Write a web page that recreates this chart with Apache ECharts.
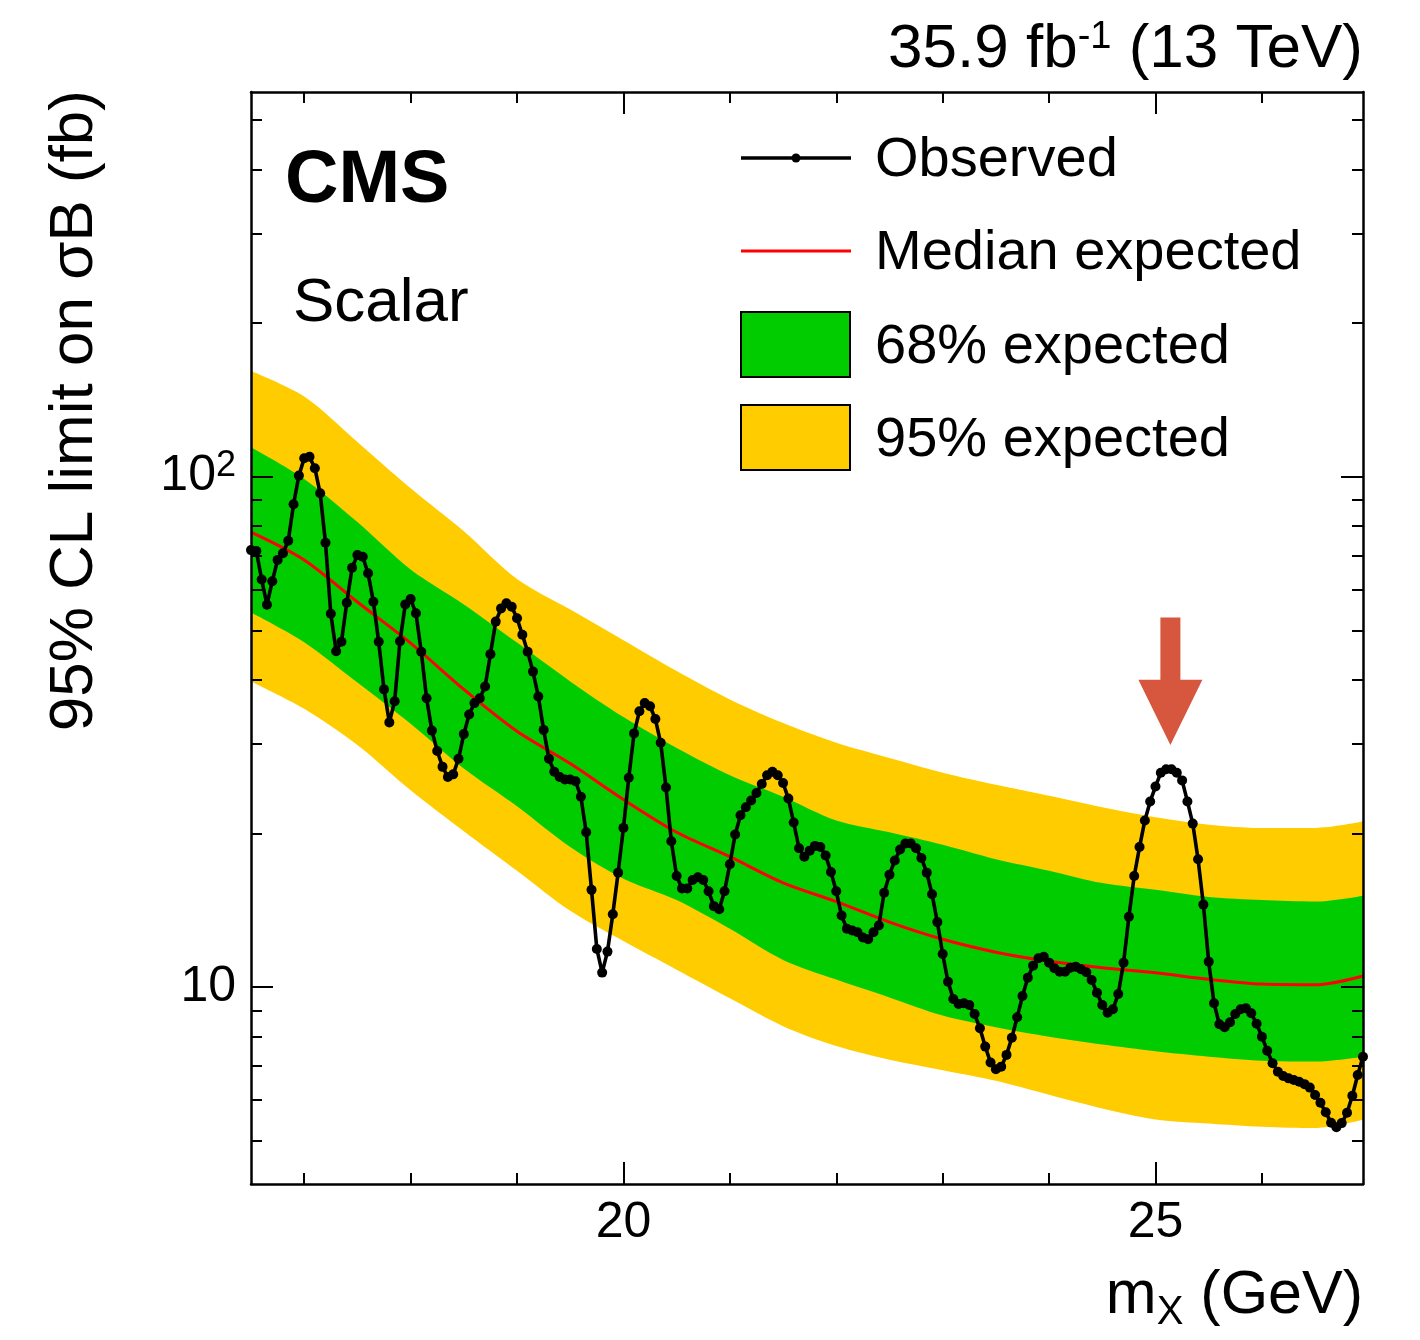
<!DOCTYPE html>
<html><head><meta charset="utf-8">
<script src="https://cdn.jsdelivr.net/npm/echarts@6/dist/echarts.min.js"></script>
<style>html,body{margin:0;padding:0;background:#fff}#c{width:1420px;height:1340px}</style>
</head><body><div id="c"></div>
<script>
// ---------- data ----------
const massPoints = [
16.5,16.55,16.6,16.65,16.7,16.75,16.8,16.85,16.9,16.95,
17,17.05,17.1,17.15,17.2,17.25,17.3,17.35,17.4,17.45,
17.5,17.55,17.6,17.65,17.7,17.75,17.8,17.85,17.9,17.95,
18,18.05,18.1,18.15,18.2,18.25,18.3,18.35,18.4,18.45,
18.5,18.55,18.6,18.65,18.7,18.75,18.8,18.85,18.9,18.95,
19,19.05,19.1,19.15,19.2,19.25,19.3,19.35,19.4,19.45,
19.5,19.55,19.6,19.65,19.7,19.75,19.8,19.85,19.9,19.95,
20,20.05,20.1,20.15,20.2,20.25,20.3,20.35,20.4,20.45,
20.5,20.55,20.6,20.65,20.7,20.75,20.8,20.85,20.9,20.95,
21,21.05,21.1,21.15,21.2,21.25,21.3,21.35,21.4,21.45,
21.5,21.55,21.6,21.65,21.7,21.75,21.8,21.85,21.9,21.95,
22,22.05,22.1,22.15,22.2,22.25,22.3,22.35,22.4,22.45,
22.5,22.55,22.6,22.65,22.7,22.75,22.8,22.85,22.9,22.95,
23,23.05,23.1,23.15,23.2,23.25,23.3,23.35,23.4,23.45,
23.5,23.55,23.6,23.65,23.7,23.75,23.8,23.85,23.9,23.95,
24,24.05,24.1,24.15,24.2,24.25,24.3,24.35,24.4,24.45,
24.5,24.55,24.6,24.65,24.7,24.75,24.8,24.85,24.9,24.95,
25,25.05,25.1,25.15,25.2,25.25,25.3,25.35,25.4,25.45,
25.5,25.55,25.6,25.65,25.7,25.75,25.8,25.85,25.9,25.95,
26,26.05,26.1,26.15,26.2,26.25,26.3,26.35,26.4,26.45,
26.5,26.55,26.6,26.65,26.7,26.75,26.8,26.85,26.9,26.95
];
const observed = [
71.8,71.5,62.9,56.1,62.4,68.7,70.8,74.9,88.3,100.5,
108.7,109.4,103.9,92.8,74.2,53.9,45.5,47.5,56.6,66.3,
70.2,69.7,64.7,56.9,47.5,38.3,33.0,36.3,47.6,56.2,
57.6,54.0,45.4,36.8,31.8,29.0,27.0,25.8,26.1,28.0,
31.3,34.2,36.0,36.8,38.8,44.9,52.0,55.2,56.5,55.6,
52.8,49.0,45.4,41.5,37.1,31.9,28.0,26.4,25.8,25.5,
25.5,25.3,23.6,20.1,15.5,11.87,10.67,11.73,13.88,16.75,
20.5,25.7,31.4,34.7,36.0,35.5,33.5,30.1,24.6,19.3,
16.5,15.6,15.6,16.2,16.4,16.2,15.4,14.4,14.2,15.4,
17.4,19.9,21.7,22.5,23.2,24.0,25.0,26.0,26.4,26.0,
25.1,23.4,21.0,18.7,18.0,18.5,18.9,18.8,18.1,16.8,
15.4,13.8,13.0,12.9,12.8,12.5,12.4,12.8,13.2,15.3,
16.6,17.7,18.6,19.1,19.1,18.7,17.9,16.75,15.2,13.4,
11.6,10.24,9.47,9.26,9.29,9.22,8.85,8.30,7.64,7.11,
6.90,6.98,7.36,7.95,8.72,9.60,10.43,11.01,11.38,11.46,
11.16,10.88,10.71,10.71,10.91,10.96,10.83,10.69,10.32,9.74,
9.22,8.90,9.04,9.69,11.16,13.73,16.5,18.8,21.2,23.1,
24.7,26.3,26.7,26.7,26.3,25.4,23.1,20.9,17.8,14.5,
11.21,9.29,8.45,8.34,8.53,8.85,9.04,9.08,8.88,8.47,
7.99,7.50,7.09,6.82,6.69,6.62,6.57,6.52,6.45,6.35,
6.14,5.93,5.68,5.42,5.31,5.41,5.67,6.12,6.72,7.30
];
const bandMass   = [16.5,17,17.5,18,18.5,19,19.5,20,20.5,21,21.5,22,22.5,23,23.5,24,24.5,25,25.5,26,26.5,26.95];
const band95Up   = [161.1,143.6,117.0,94.9,78.2,63.0,54.9,47.8,41.6,36.6,32.9,30.1,28.1,26.3,24.9,23.7,22.5,21.5,20.8,20.5,20.5,21.1];
const band68Up   = [114.2,99.0,81.5,65.8,56.2,47.3,39.7,33.8,29.4,26.0,23.6,21.2,20.1,19.0,17.8,16.9,15.98,15.5,15.0,14.8,14.7,15.1];
const medianExp  = [77.9,68.7,56.8,47.2,38.3,31.7,27.4,23.3,20.1,18.0,16.0,14.7,13.4,12.4,11.70,11.23,10.91,10.66,10.35,10.13,10.10,10.51];
const band68Down = [54.2,47.4,39.5,32.8,26.8,22.6,18.8,16.3,14.8,13.0,11.3,10.34,9.54,8.79,8.34,7.99,7.71,7.48,7.30,7.17,7.14,7.30];
const band95Down = [39.7,35.1,29.8,24.3,20.2,16.9,14.1,12.3,10.81,9.50,8.38,7.66,7.20,6.87,6.55,6.15,5.78,5.50,5.40,5.32,5.29,5.49];

const xMajorTicks = [20, 25];
const xMinorTicks = [17, 18, 19, 21, 22, 23, 24, 26];
const yMajorTicks = [10, 100];
const yMinorTicks = [5, 6, 7, 8, 9, 20, 30, 40, 50, 60, 70, 80, 90, 200, 300, 400, 500];

const arrowPoint = [25.14, 53, 40, 29.8]; // mass, shaft top, head base, tip

const legendLabels = ['Observed', 'Median expected', '68% expected', '95% expected'];

// ---------- chart ----------
const FONT = "'Liberation Sans', Arial, Helvetica, sans-serif";
const X_MIN = 16.5, X_MAX = 26.95, Y_MIN = 4.11, Y_MAX = 567.5;
const zip = (a, b) => a.map((v, i) => [v, b[i]]);

function xAxisDef(pos, ticks, len, line, labels) {
  return {
    type: 'value', gridIndex: 0, position: pos, min: X_MIN, max: X_MAX, z: 10,
    axisLine: { show: line, onZero: false, lineStyle: { color: '#000', width: 2.5 } },
    axisTick: { show: true, inside: true, length: len, customValues: ticks, lineStyle: { color: '#000', width: 2 } },
    axisLabel: labels ? { show: true, customValues: labels, margin: 14, color: '#000', fontSize: 50, fontFamily: FONT } : { show: false },
    splitLine: { show: false }
  };
}
function yAxisDef(pos, ticks, len, line, labels) {
  return {
    type: 'log', logBase: 10, gridIndex: 0, position: pos, min: Y_MIN, max: Y_MAX, z: 10,
    axisLine: { show: line, onZero: false, lineStyle: { color: '#000', width: 2.5 } },
    axisTick: { show: true, inside: true, length: len, customValues: ticks, lineStyle: { color: '#000', width: 2 } },
    axisLabel: labels ? {
      show: true, customValues: labels, margin: 15, color: '#000', fontSize: 50, fontFamily: FONT,
      formatter: v => { const e = Math.round(Math.log10(v)); return e === 1 ? '10' : '10{sup|' + e + '}'; },
      rich: { sup: { fontSize: 36, fontFamily: FONT, color: '#000', verticalAlign: 'top', padding: [0, 0, 22, 0] } }
    } : { show: false },
    splitLine: { show: false }
  };
}
function bandSeries(name, vals, color) {
  return {
    name, type: 'line', xAxisIndex: 0, yAxisIndex: 0, data: zip(bandMass, vals),
    smooth: 0.3, symbol: 'none', silent: true, z: 1,
    lineStyle: { width: 0, opacity: 0 },
    areaStyle: { color, opacity: 1, origin: 'start' }
  };
}

const chart = echarts.init(document.getElementById('c'), null, { renderer: 'canvas' });
const option = {
  animation: false,
  backgroundColor: '#ffffff',
  grid: { left: 251, right: 57, top: 92, bottom: 156, outerBoundsMode: 'none', containLabel: false },
  xAxis: [
    xAxisDef('bottom', xMajorTicks, 22, true, xMajorTicks),
    xAxisDef('bottom', xMinorTicks, 11, false, null),
    xAxisDef('top', xMajorTicks, 22, true, null),
    xAxisDef('top', xMinorTicks, 11, false, null)
  ],
  yAxis: [
    yAxisDef('left', yMajorTicks, 22, true, yMajorTicks),
    yAxisDef('left', yMinorTicks, 11, false, null),
    yAxisDef('right', yMajorTicks, 22, true, null),
    yAxisDef('right', yMinorTicks, 11, false, null)
  ],
  series: [
    bandSeries('95% expected', band95Up, '#FFCC00'),
    bandSeries('68% expected', band68Up, '#00CC00'),
    bandSeries('68% lower', band68Down, '#FFCC00'),
    bandSeries('95% lower', band95Down, '#FFFFFF'),
    {
      name: 'Median expected', type: 'line', data: zip(bandMass, medianExp), smooth: 0.3,
      symbol: 'none', z: 3, lineStyle: { color: '#FF0000', width: 3 }
    },
    {
      name: 'Observed', type: 'line', data: zip(massPoints, observed), z: 4,
      symbol: 'circle', symbolSize: 10, showAllSymbol: true,
      itemStyle: { color: '#000' }, lineStyle: { color: '#000', width: 3.6 }
    },
    {
      name: 'arrow', type: 'custom', z: 5, silent: true,
      data: [arrowPoint], encode: { x: 0, y: 1 },
      renderItem: (params, api) => {
        const top = api.coord([api.value(0), api.value(1)]);
        const base = api.coord([api.value(0), api.value(2)]);
        const tip = api.coord([api.value(0), api.value(3)]);
        const sw = 10, hw = 32;
        return {
          type: 'polygon',
          shape: { points: [[top[0] - sw, top[1]], [top[0] + sw, top[1]], [base[0] + sw, base[1]], [base[0] + hw, base[1]],
                            [tip[0], tip[1]], [base[0] - hw, base[1]], [base[0] - sw, base[1]]] },
          style: { fill: '#D6573D' }
        };
      }
    }
  ],
  graphic: [
    { type: 'text', x: 1363, y: 50, z: 20, style: { text: '35.9 fb{sup|-1} (13 TeV)', fill: '#000', font: '62px ' + FONT, align: 'right', verticalAlign: 'middle',
      rich: { sup: { fontSize: 38, fontFamily: FONT, fill: '#000', verticalAlign: 'top', padding: [0, 0, 22, 0] } } } },
    { type: 'text', x: 285, y: 182, z: 20, style: { text: 'CMS', fill: '#000', font: 'bold 74px ' + FONT, align: 'left', verticalAlign: 'middle' } },
    { type: 'text', x: 293, y: 304, z: 20, style: { text: 'Scalar', fill: '#000', font: '62px ' + FONT, align: 'left', verticalAlign: 'middle' } },
    { type: 'text', x: 75, y: 90, rotation: Math.PI / 2, z: 20, style: { text: '95% CL limit on σB (fb)', fill: '#000', font: '62px ' + FONT, align: 'right', verticalAlign: 'middle' } },
    { type: 'text', x: 1363, y: 1296, z: 20, style: { text: 'm{sub|X} (GeV)', fill: '#000', font: '61px ' + FONT, align: 'right', verticalAlign: 'middle',
      rich: { sub: { fontSize: 40, fontFamily: FONT, fill: '#000', verticalAlign: 'bottom', padding: [34, 0, 0, 0] } } } },
    // legend
    { type: 'line', z: 20, shape: { x1: 741, y1: 158, x2: 851, y2: 158 }, style: { stroke: '#000', lineWidth: 3.5 } },
    { type: 'circle', z: 21, shape: { cx: 796, cy: 158, r: 4.5 }, style: { fill: '#000' } },
    { type: 'text', x: 875, y: 161, z: 20, style: { text: legendLabels[0], fill: '#000', font: '56px ' + FONT, align: 'left', verticalAlign: 'middle' } },
    { type: 'line', z: 20, shape: { x1: 741, y1: 251, x2: 851, y2: 251 }, style: { stroke: '#FF0000', lineWidth: 3 } },
    { type: 'text', x: 875, y: 254, z: 20, style: { text: legendLabels[1], fill: '#000', font: '56px ' + FONT, align: 'left', verticalAlign: 'middle' } },
    { type: 'rect', z: 20, shape: { x: 741, y: 312, width: 109, height: 65 }, style: { fill: '#00CC00', stroke: '#000', lineWidth: 2 } },
    { type: 'text', x: 875, y: 348, z: 20, style: { text: legendLabels[2], fill: '#000', font: '56px ' + FONT, align: 'left', verticalAlign: 'middle' } },
    { type: 'rect', z: 20, shape: { x: 741, y: 405, width: 109, height: 65 }, style: { fill: '#FFCC00', stroke: '#000', lineWidth: 2 } },
    { type: 'text', x: 875, y: 441, z: 20, style: { text: legendLabels[3], fill: '#000', font: '56px ' + FONT, align: 'left', verticalAlign: 'middle' } }
  ]
};
chart.setOption(option);
</script>
</body></html>
